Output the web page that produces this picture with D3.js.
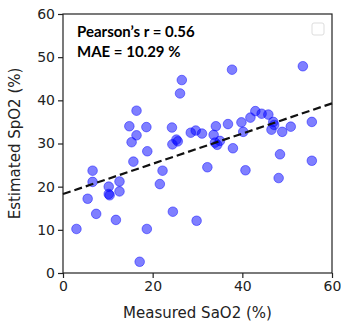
<!DOCTYPE html>
<html>
<head>
<meta charset="UTF-8">
<script src="https://d3js.org/d3.v7.min.js"></script>
<style>
  body { margin: 0; background: #fff; }
  text { font-family: "DejaVu Sans", sans-serif; }
</style>
</head>
<body>
<svg id="chart"></svg>
<script>
// measured SaO2 (%) vs estimated SpO2 (%)
const measured = [3.0, 5.5, 6.6, 6.6, 7.4, 10.2, 10.2, 10.4, 11.8, 12.6, 12.6,
  14.8, 15.3, 15.7, 16.4, 16.4, 17.1, 18.6, 18.8, 18.7, 21.6, 22.2, 24.3, 24.4,
  25.3, 25.6, 24.5, 26.1, 26.5, 28.5, 29.6, 29.8, 31.0, 32.2, 33.6, 34.1, 33.9,
  34.4, 35.0, 36.8, 37.7, 37.9, 39.8, 40.2, 40.7, 41.8, 42.9, 44.3, 45.8, 46.9,
  47.1, 46.5, 48.9, 50.8, 48.4, 48.1, 53.5, 55.5, 55.5];
const estimated = [10.2, 17.2, 23.7, 21.1, 13.7, 20.0, 18.3, 18.0, 12.3, 21.2, 18.9,
  34.0, 30.3, 25.8, 31.9, 37.6, 2.6, 33.8, 28.2, 10.2, 20.6, 23.7, 33.7, 29.8,
  30.9, 30.5, 14.2, 41.6, 44.7, 32.5, 33.0, 12.1, 32.3, 24.5, 32.0, 34.0, 30.2,
  29.7, 30.6, 34.5, 47.1, 28.9, 34.9, 32.7, 23.8, 36.0, 37.5, 36.9, 36.7, 35.0,
  34.3, 33.2, 32.7, 33.9, 27.5, 22.0, 47.9, 35.0, 26.0];
const fitLine = { intercept: 18.3, slope: 0.35 };
const xTicks = [0, 20, 40, 60];
const yTicks = [0, 10, 20, 30, 40, 50, 60];
const statLines = ["Pearson\u2019s r = 0.56", "MAE = 10.29 %"];

const W = 341, H = 327;
const m = { left: 63, right: 9, top: 14, bottom: 54 };

const svg = d3.select("#chart").attr("width", W).attr("height", H);

const x = d3.scaleLinear().domain([0, 60]).range([m.left, W - m.right]);
const y = d3.scaleLinear().domain([0, 60]).range([H - m.bottom, m.top]);

// frame
svg.append("rect")
  .attr("x", x(0)).attr("y", y(60))
  .attr("width", x(60) - x(0)).attr("height", y(0) - y(60))
  .attr("fill", "none").attr("stroke", "#222").attr("stroke-width", 1.2);

const xAxis = svg.append("g")
  .attr("transform", `translate(0,${y(0)})`)
  .call(d3.axisBottom(x).tickValues(xTicks).tickSize(5).tickPadding(3));
const yAxis = svg.append("g")
  .attr("transform", `translate(${x(0)},0)`)
  .call(d3.axisLeft(y).tickValues(yTicks).tickSize(5).tickPadding(3));

[xAxis, yAxis].forEach(g => {
  g.select(".domain").remove();
  g.selectAll(".tick line").attr("stroke", "#222").attr("stroke-width", 1.2);
  g.selectAll(".tick text")
    .attr("fill", "#222")
    .style("font-size", "14px")
    .style("font-family", "DejaVu Sans, sans-serif");
});

// points
svg.append("g")
  .selectAll("circle")
  .data(measured.map((d, i) => [d, estimated[i]]))
  .enter()
  .append("circle")
    .attr("cx", d => x(d[0]))
    .attr("cy", d => y(d[1]))
    .attr("r", 4.8)
    .attr("fill", "blue")
    .attr("fill-opacity", 0.5)
    .attr("stroke", "blue")
    .attr("stroke-opacity", 0.45)
    .attr("stroke-width", 1);

// regression line
svg.append("line")
  .attr("x1", x(0)).attr("y1", y(fitLine.intercept))
  .attr("x2", x(60)).attr("y2", y(fitLine.intercept + fitLine.slope * 60))
  .attr("stroke", "#111").attr("stroke-width", 2.2)
  .attr("stroke-dasharray", "8,4");

// stats text
svg.append("g").selectAll("text")
  .data(statLines)
  .enter()
  .append("text")
    .attr("x", 77)
    .attr("y", (d, i) => 37 + i * 20)
    .style("font-family", "Lato, sans-serif")
    .style("font-weight", "bold")
    .style("font-size", "15px")
    .attr("fill", "#000")
    .text(d => d);

// empty legend box
svg.append("rect")
  .attr("x", 312).attr("y", 23).attr("width", 12).attr("height", 12)
  .attr("rx", 2)
  .attr("fill", "#fff").attr("stroke", "#ddd").attr("stroke-width", 1);

// axis labels
svg.append("text")
  .attr("x", (x(0) + x(60)) / 2).attr("y", 318)
  .attr("text-anchor", "middle")
  .style("font-size", "15px")
  .attr("fill", "#222")
  .text("Measured SaO2 (%)");

svg.append("text")
  .attr("transform", `translate(20,${(y(0) + y(60)) / 2}) rotate(-90)`)
  .attr("text-anchor", "middle")
  .style("font-size", "15px")
  .attr("fill", "#222")
  .text("Estimated SpO2 (%)");
</script>
</body>
</html>
